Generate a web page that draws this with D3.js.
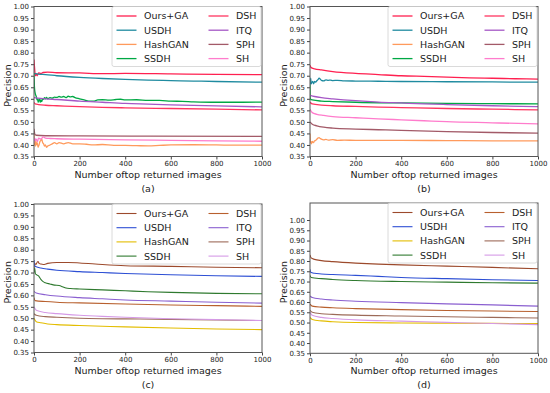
<!DOCTYPE html>
<html>
<head>
<meta charset="utf-8">
<script src="https://cdn.jsdelivr.net/npm/d3@7"></script>
<style>
  body { margin: 0; background: #fff; }
  svg text { font-family: "DejaVu Sans", sans-serif; fill: #222; }
</style>
</head>
<body>
<div id="container"></div>
<script>
// legend order: first column then second column
var methods = ["Ours+GA", "USDH", "HashGAN", "SSDH", "DSH", "ITQ", "SPH", "SH"];
var colorsTop = ["#ff2050", "#1f8ba0", "#ff9a5c", "#00a844", "#ff3560", "#a557c6", "#a35a68", "#ff7ccc"];
var colorsBottom = ["#9c4a2c", "#2d4fd4", "#e3bd00", "#2f7a2f", "#b8602e", "#8a5fd0", "#9c6a58", "#d59ae6"];
var xTicks = [0, 200, 400, 600, 800, 1000];
var yTicks = [0.35, 0.40, 0.45, 0.50, 0.55, 0.60, 0.65, 0.70, 0.75, 0.80, 0.85, 0.90, 0.95, 1.00];
var panelNames = ["(a)", "(b)", "(c)", "(d)"];
var xTitle = "Number oftop returned images";
var yTitle = "Precision";

// [rank, precision] pairs, one list per method (same order as methods)
var precA = [
  [[0,.77],[2,.74],[4,.715],[6,.70],[10,.708],[14,.70],[20,.712],[30,.71],[40,.714],[60,.716],[100,.713],[200,.712],[300,.709],[400,.71],[600,.708],[800,.706],[1000,.705]],
  [[0,.71],[20,.707],[50,.705],[100,.70],[200,.693],[300,.688],[400,.684],[500,.681],[600,.679],[700,.677],[800,.675],[1000,.672]],
  [[0,.45],[2,.40],[4,.41],[6,.395],[8,.42],[10,.40],[14,.41],[18,.39],[22,.40],[26,.415],[30,.42],[34,.425],[38,.41],[42,.405],[46,.395],[50,.40],[55,.39],[60,.395],[70,.40],[80,.405],[90,.41],[100,.405],[110,.41],[130,.405],[150,.41],[170,.405],[200,.405],[230,.403],[260,.40],[300,.402],[350,.398],[400,.398],[450,.397],[500,.396],[550,.398],[600,.40],[700,.401],[800,.40],[900,.399],[1000,.399]],
  [[0,.71],[1,.68],[2,.65],[4,.63],[6,.62],[8,.615],[10,.61],[12,.60],[14,.595],[16,.60],[18,.585],[20,.59],[24,.60],[27,.585],[30,.595],[34,.588],[38,.60],[42,.598],[46,.605],[50,.60],[55,.606],[60,.60],[70,.605],[80,.603],[90,.607],[100,.606],[110,.61],[120,.607],[130,.61],[140,.605],[150,.611],[160,.608],[170,.61],[180,.605],[200,.60],[220,.595],[240,.59],[260,.59],[280,.595],[300,.596],[330,.594],[360,.597],[380,.598],[400,.595],[450,.596],[500,.593],[550,.593],[600,.59],[650,.589],[700,.587],[800,.585],[900,.585],[1000,.586]],
  [[0,.585],[5,.578],[20,.575],[50,.572],[100,.57],[200,.566],[300,.563],[400,.561],[600,.558],[800,.555],[1000,.552]],
  [[0,.605],[50,.60],[100,.597],[200,.59],[300,.585],[400,.58],[500,.577],[600,.574],[800,.569],[1000,.565]],
  [[0,.47],[2,.455],[4,.445],[10,.442],[50,.44],[200,.439],[500,.438],[1000,.437]],
  [[0,.41],[3,.43],[6,.42],[10,.425],[15,.415],[20,.43],[30,.425],[40,.435],[50,.43],[70,.428],[100,.427],[200,.425],[400,.422],[600,.42],[800,.418],[1000,.416]]
];

var precB = [
  [[0,.745],[5,.735],[20,.73],[50,.725],[100,.718],[200,.71],[300,.705],[400,.70],[500,.697],[600,.694],[700,.691],[800,.689],[900,.687],[1000,.685]],
  [[0,.66],[3,.69],[5,.665],[8,.67],[12,.675],[16,.665],[20,.675],[25,.672],[30,.678],[35,.683],[40,.69],[45,.685],[50,.68],[60,.678],[70,.682],[80,.68],[90,.681],[100,.679],[120,.68],[150,.678],[200,.677],[300,.676],[400,.675],[600,.674],[800,.673],[1000,.672]],
  [[0,.45],[2,.41],[4,.415],[6,.405],[10,.415],[15,.41],[20,.418],[25,.42],[30,.425],[35,.43],[40,.432],[45,.428],[50,.425],[60,.422],[70,.424],[80,.421],[100,.423],[120,.42],[150,.421],[200,.42],[400,.42],[600,.419],[800,.418],[1000,.418]],
  [[0,.66],[1,.60],[10,.595],[50,.59],[100,.588],[200,.585],[400,.582],[600,.58],[800,.579],[1000,.578]],
  [[0,.585],[10,.578],[50,.573],[100,.57],[200,.567],[300,.564],[400,.562],[600,.558],[800,.555],[1000,.552]],
  [[0,.615],[20,.61],[50,.605],[100,.60],[200,.592],[300,.586],[400,.582],[500,.578],[600,.575],[800,.57],[1000,.566]],
  [[0,.50],[10,.49],[30,.483],[60,.477],[100,.473],[200,.469],[300,.466],[400,.463],[600,.458],[800,.454],[1000,.451]],
  [[0,.555],[10,.54],[30,.533],[60,.528],[100,.523],[200,.518],[300,.513],[400,.509],[500,.505],[600,.501],[800,.496],[1000,.491]]
];

var precC = [
  [[0,.72],[3,.74],[8,.735],[14,.745],[18,.748],[22,.74],[30,.737],[40,.735],[60,.74],[100,.744],[150,.744],[200,.742],[300,.735],[400,.73],[600,.727],[800,.723],[1000,.721]],
  [[0,.755],[3,.73],[10,.725],[30,.72],[60,.715],[100,.71],[200,.704],[300,.70],[400,.696],[600,.69],[800,.686],[1000,.683]],
  [[0,.50],[10,.485],[30,.48],[60,.475],[100,.472],[200,.468],[300,.465],[400,.462],[600,.457],[800,.453],[1000,.45]],
  [[0,.70],[3,.72],[6,.695],[12,.69],[20,.685],[30,.67],[40,.66],[50,.655],[70,.65],[90,.645],[110,.643],[125,.638],[140,.632],[160,.63],[200,.628],[300,.624],[400,.62],[500,.616],[600,.613],[800,.609],[1000,.607]],
  [[0,.59],[5,.577],[50,.573],[100,.57],[200,.567],[400,.562],[600,.558],[800,.555],[1000,.552]],
  [[0,.618],[10,.61],[50,.603],[100,.597],[200,.59],[300,.585],[400,.58],[600,.575],[800,.57],[1000,.566]],
  [[0,.52],[10,.513],[50,.507],[100,.504],[200,.50],[300,.498],[400,.497],[600,.495],[800,.492],[1000,.49]],
  [[0,.55],[10,.535],[50,.525],[100,.52],[200,.513],[300,.508],[400,.504],[600,.498],[800,.494],[1000,.49]]
];

var precD = [
  [[0,.83],[5,.815],[20,.808],[50,.802],[100,.797],[200,.79],[300,.785],[400,.781],[600,.775],[800,.769],[1000,.762]],
  [[0,.76],[3,.745],[20,.74],[50,.737],[100,.734],[200,.73],[300,.725],[400,.72],[600,.714],[800,.709],[1000,.705]],
  [[0,.525],[10,.515],[50,.508],[100,.504],[200,.50],[400,.498],[600,.497],[800,.496],[1000,.495]],
  [[0,.73],[5,.72],[50,.714],[100,.71],[200,.705],[400,.70],[600,.697],[800,.694],[1000,.692]],
  [[0,.59],[10,.58],[50,.575],[100,.572],[200,.568],[400,.563],[600,.559],[800,.556],[1000,.554]],
  [[0,.63],[10,.622],[50,.615],[100,.61],[200,.604],[400,.597],[600,.591],[800,.586],[1000,.58]],
  [[0,.56],[10,.55],[50,.543],[100,.54],[200,.536],[400,.532],[600,.528],[800,.525],[1000,.522]],
  [[0,.55],[10,.535],[50,.525],[100,.52],[200,.513],[400,.507],[600,.501],[800,.495],[1000,.49]]
];

var svg = d3.select('#container').append('svg')
  .attr('width', 550).attr('height', 393);

// one box per subplot
var panels = [
  { data: precA, colors: colorsTop,    x0: 34,  x1: 262, y0: 6.5, y1: 156.5, ymax: 1.0,   lw: 1.3 },
  { data: precB, colors: colorsTop,    x0: 310, x1: 538, y0: 6.5, y1: 156.5, ymax: 1.0,   lw: 1.3 },
  { data: precC, colors: colorsBottom, x0: 34,  x1: 262, y0: 204, y1: 352.5, ymax: 1.0,   lw: 1.1 },
  { data: precD, colors: colorsBottom, x0: 310, x1: 538, y0: 203, y1: 353.3, ymax: 1.083, lw: 1.1 }
];

panels.forEach(function(p, pi) {
  var x = d3.scaleLinear().domain([0, 1000]).range([p.x0, p.x1]);
  var y = d3.scaleLinear().domain([0.35, p.ymax]).range([p.y1, p.y0]);
  var g = svg.append('g').classed('panel', true);

  var clipId = 'clip' + pi;
  g.append('clipPath').attr('id', clipId).append('rect')
    .attr('x', p.x0).attr('y', p.y0).attr('width', p.x1 - p.x0).attr('height', p.y1 - p.y0);

  var line = d3.line()
    .x(function(d) { return x(d[0]); })
    .y(function(d) { return y(d[1]); })
    .curve(d3.curveMonotoneX);

  g.append('g').attr('clip-path', 'url(#' + clipId + ')')
    .selectAll('path')
    .data(p.data)
    .enter().append('path')
    .attr('d', line)
    .attr('fill', 'none')
    .attr('stroke', function(d, i) { return p.colors[i]; })
    .attr('stroke-width', p.lw);

  // axes
  var xAxis = d3.axisBottom(x).tickValues(xTicks).tickSize(3).tickPadding(2)
    .tickFormat(d3.format('d'));
  var yAxis = d3.axisLeft(y).tickValues(yTicks).tickSize(3).tickPadding(2)
    .tickFormat(d3.format('.2f'));

  var gx = g.append('g').attr('transform', 'translate(0,' + p.y1 + ')').call(xAxis);
  var gy = g.append('g').attr('transform', 'translate(' + p.x0 + ',0)').call(yAxis);
  [gx, gy].forEach(function(a) {
    a.select('.domain').remove();
    a.selectAll('line').attr('stroke', '#444');
    a.selectAll('text').style('font-size', '7px').attr('fill', '#222');
  });

  g.append('rect')
    .attr('x', p.x0).attr('y', p.y0)
    .attr('width', p.x1 - p.x0).attr('height', p.y1 - p.y0)
    .attr('fill', 'none').attr('stroke', '#555').attr('stroke-width', 1);

  // titles
  var cx = (p.x0 + p.x1) / 2;
  g.append('text').attr('x', cx).attr('y', p.y1 + 21)
    .attr('text-anchor', 'middle').style('font-size', '9.5px').text(xTitle);
  g.append('text').attr('x', cx).attr('y', p.y1 + 35)
    .attr('text-anchor', 'middle').style('font-size', '9.5px').text(panelNames[pi]);
  g.append('text')
    .attr('transform', 'translate(' + (p.x0 - 23) + ',' + ((p.y0 + p.y1) / 2 + 4) + ') rotate(-90)')
    .attr('text-anchor', 'middle').style('font-size', '9.5px').text(yTitle);

  // legend in upper right
  var lx = p.x1 - 150, ly = p.y0;
  var leg = g.append('g').attr('transform', 'translate(' + lx + ',' + ly + ')');
  leg.append('rect').attr('x', 0).attr('y', 0).attr('width', 149).attr('height', 60)
    .attr('rx', 2).attr('fill', '#fff').attr('fill-opacity', 0.85)
    .attr('stroke', '#d0d0d0').attr('stroke-width', 0.8);
  var items = leg.selectAll('g.item').data(methods).enter().append('g').classed('item', true)
    .attr('transform', function(d, i) {
      return 'translate(' + (Math.floor(i / 4) * 92) + ',' + (9.5 + (i % 4) * 14.2) + ')';
    });
  items.append('line').attr('x1', 4.5).attr('x2', 24.5).attr('y1', 0).attr('y2', 0)
    .attr('stroke', function(d, i) { return p.colors[i]; }).attr('stroke-width', p.lw);
  items.append('text').attr('x', 32).attr('y', 3.4)
    .style('font-size', '9.5px').text(function(d) { return d; });
});
</script>
</body>
</html>
